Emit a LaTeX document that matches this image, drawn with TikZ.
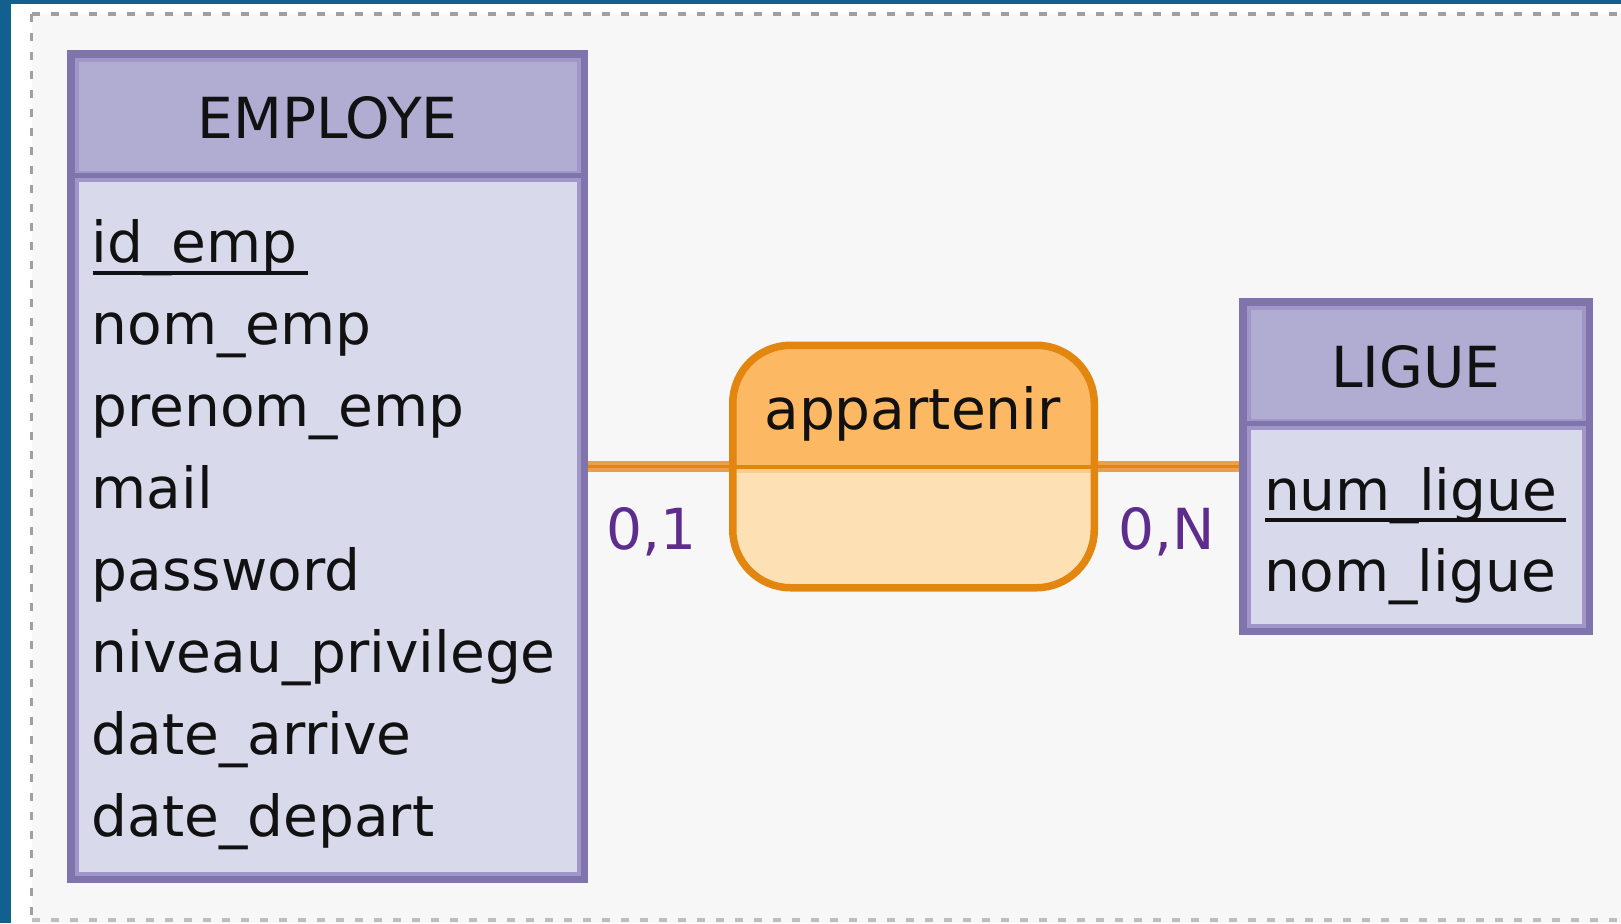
\documentclass[tikz,border=0pt]{standalone}
\usepackage{fontspec}
\setmainfont{DejaVu Sans}
\usetikzlibrary{calc}

% palette
\definecolor{framebar}{RGB}{19,96,143}
\definecolor{panelbg}{RGB}{247,247,247}
\definecolor{dashdark}{RGB}{160,160,160}
\definecolor{dashlight}{RGB}{190,190,190}
\definecolor{entdark}{RGB}{128,116,172}
\definecolor{entlight}{RGB}{160,151,200}
\definecolor{enthead}{RGB}{177,172,210}
\definecolor{entbody}{RGB}{216,217,235}
\definecolor{appborder}{RGB}{226,134,15}
\definecolor{apptop}{RGB}{253,184,99}
\definecolor{appbot}{RGB}{254,224,181}
\definecolor{appband}{RGB}{250,204,145}
\definecolor{linkouter}{RGB}{233,160,78}
\definecolor{cardink}{RGB}{94,44,140}
\definecolor{ink}{RGB}{17,17,17}

\begin{document}
\begin{tikzpicture}[x=0.5pt,y=-0.5pt,
  entity/.style={draw=entdark, line width=3.75pt, fill=entbody,
    inner sep=0pt, outer sep=1.875pt},
  assoc/.style={draw=appborder, line width=3.75pt, fill=appbot,
    rounded corners=29pt, inner sep=0pt, outer sep=1.875pt,
    path picture={
      \fill[apptop, sharp corners] (path picture bounding box.north west)
        rectangle (path picture bounding box.east);
      \draw[appband, line width=2pt, sharp corners]
        ([yshift=-2pt]path picture bounding box.west) --
        ([yshift=-2pt]path picture bounding box.east);
      \draw[appborder, line width=2pt, sharp corners]
        (path picture bounding box.west) -- (path picture bounding box.east);
    }},
  txt/.style={inner sep=0pt, outer sep=0pt, text=ink,
    font=\fontsize{28.3pt}{34pt}\selectfont},
  card/.style={txt, text=cardink},
  uline/.style={draw=ink, line width=2pt},
  innerline/.style={draw=entlight, line width=2pt},
  seplight/.style={draw=entlight, line width=5.5pt},
  sepdark/.style={draw=entdark, line width=2.5pt},
  linkwide/.style={draw=linkouter, line width=5.75pt},
  linkcore/.style={draw=appborder, line width=1.75pt},
  framedash/.style={dash pattern=on 4pt off 5.5pt}
]
\useasboundingbox (0,0) rectangle (1621,923);

% page frame and panel
\fill[white] (0,0) rectangle (1621,923);
\fill[framebar] (0,0) rectangle (11,923);
\fill[framebar] (0,0) rectangle (1621,4);
\fill[panelbg] (31.5,14) rectangle (1621,923);
\draw[framedash, dashdark, line width=2pt] (31.5,14) -- (1621,14);
\draw[framedash, dashdark, line width=1.5pt] (31.5,14) -- (31.5,923);
\draw[framedash, dashlight, line width=2pt] (31.5,920) -- (1621,920);

% entity EMPLOYE
\node[entity, minimum width=256.75pt, minimum height=412.75pt] (emp) at (327.5,466.5) {};
\fill[enthead] (74.5,57.5) rectangle (580.5,176);
\draw[innerline] (76.5,59.5) rectangle (578.5,873.5);
\draw[seplight] (74.5,176) -- (580.5,176);
\draw[sepdark] (74.5,175.5) -- (580.5,175.5);
\node[txt, anchor=base] (empname) at (327.5,138) {EMPLOYE};
\node[txt, anchor=base west] (idemp) at (91.5,262) {id\_emp};
\draw[uline] ($(idemp.base west)+(1,11)$) -- ($(idemp.base east)+(11,11)$);
\node[txt, anchor=base west] (nomemp) at (91.5,344) {nom\_emp};
\node[txt, anchor=base west] (prenomemp) at (91.5,426) {prenom\_emp};
\node[txt, anchor=base west] (mail) at (91.5,508) {mail};
\node[txt, anchor=base west] (password) at (91.5,590) {password};
\node[txt, anchor=base west] (niveau) at (91.5,672) {niveau\_privilege};
\node[txt, anchor=base west] (datearr) at (91.5,754) {date\_arrive};
\node[txt, anchor=base west] (datedep) at (91.5,836) {date\_depart};

% entity LIGUE
\node[entity, minimum width=173.25pt, minimum height=164.75pt] (lig) at (1416,466.5) {};
\fill[enthead] (1246.5,305.5) rectangle (1585.5,424);
\draw[innerline] (1248.5,307.5) rectangle (1583.5,625.5);
\draw[seplight] (1246.5,424) -- (1585.5,424);
\draw[sepdark] (1246.5,423.5) -- (1585.5,423.5);
\node[txt, anchor=base] (ligname) at (1416,387) {LIGUE};
\node[txt, anchor=base west] (numligue) at (1264,510) {num\_ligue};
\draw[uline] ($(numligue.base west)+(1,10)$) -- ($(numligue.base east)+(9,10)$);
\node[txt, anchor=base west] (nomligue) at (1264,591) {nom\_ligue};

% association appartenir
\node[assoc, minimum width=180.75pt, minimum height=121.25pt] (app) at (913.5,466.5) {};
\node[txt, anchor=base] (appname) at (912.5,429) {appartenir};

% links and cardinalities
\draw[linkwide] (emp) -- (app);
\draw[linkcore] (emp) -- (app);
\draw[linkwide] (app) -- (lig);
\draw[linkcore] (app) -- (lig);
\node[card, anchor=base] (cardemp) at (651,549) {0,1};
\node[card, anchor=base] (cardlig) at (1167,549) {0,N};
\end{tikzpicture}
\end{document}
